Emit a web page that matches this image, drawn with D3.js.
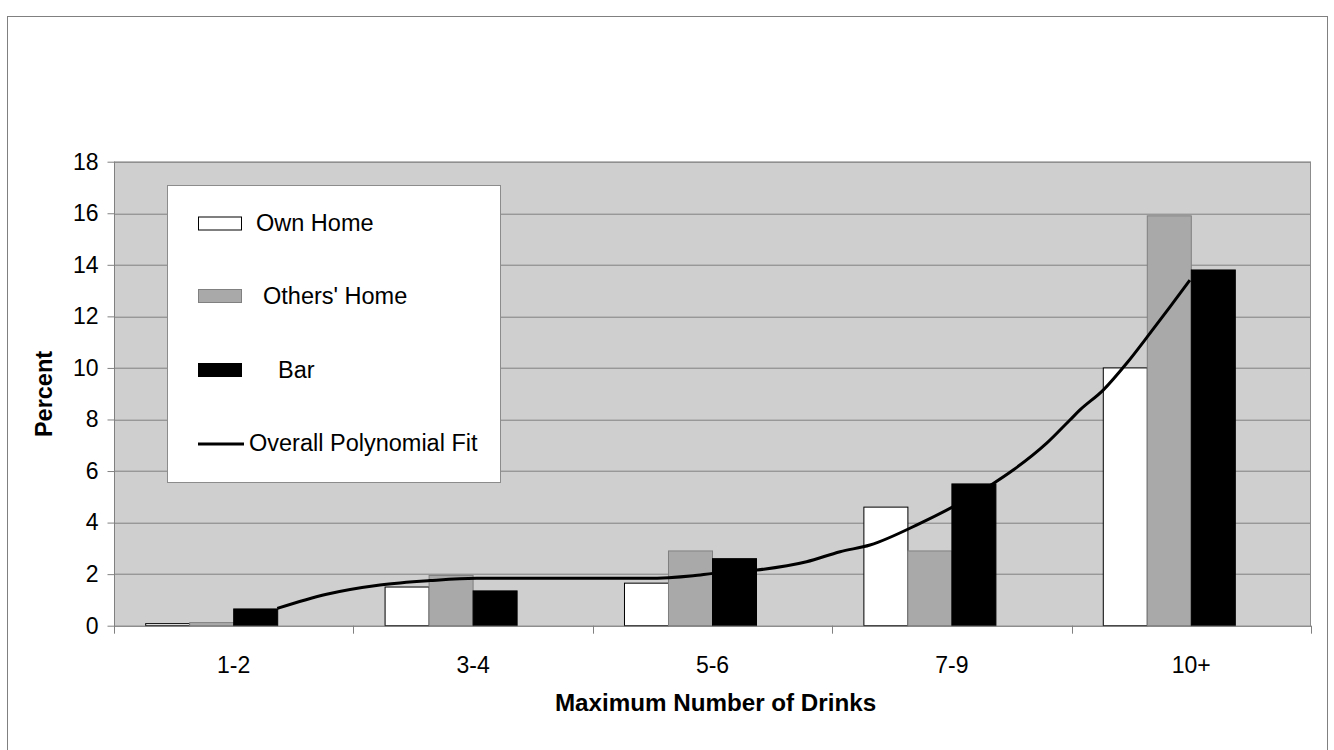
<!DOCTYPE html>
<html>
<head>
<meta charset="utf-8">
<script src="https://cdn.jsdelivr.net/npm/d3@7/dist/d3.min.js"></script>
<style>
  html, body { margin: 0; padding: 0; background: #ffffff; }
  svg { display: block; font-family: "Liberation Sans", Arial, sans-serif; }
</style>
</head>
<body>
<svg id="chart" width="1334" height="750"></svg>
<script>
// ---------------- data ----------------
const categories = ["1-2", "3-4", "5-6", "7-9", "10+"];
const seriesNames = ["Own Home", "Others' Home", "Bar"];
const ownHome   = [0.08, 1.50, 1.65, 4.60, 10.00];
const othersHome = [0.12, 1.95, 2.90, 2.90, 15.90];
const barValues = [0.65, 1.35, 2.60, 5.50, 13.80];
const yTicks = [0, 2, 4, 6, 8, 10, 12, 14, 16, 18];
// polynomial fit: position in category-index units (0 = centre of "1-2") and value
const fitPos = [0.182, 0.388, 0.611, 0.820, 1.015, 1.363, 1.725, 1.919, 2.002, 2.185, 2.393, 2.533, 2.658, 2.867, 3.006, 3.173, 3.256, 3.396, 3.493, 3.535, 3.632, 3.730, 3.827, 3.911, 3.994];
const fitVal = [0.67, 1.22, 1.58, 1.75, 1.84, 1.84, 1.84, 1.94, 2.03, 2.16, 2.48, 2.87, 3.13, 3.97, 4.62, 5.52, 6.04, 7.08, 7.98, 8.37, 9.14, 10.18, 11.34, 12.37, 13.41];
const legendLabels = ["Own Home", "Others' Home", "Bar", "Overall Polynomial Fit"];
const seriesFill = ["#ffffff", "#a9a9a9", "#000000"];
const seriesStroke = ["#000000", "#808080", "#000000"];

// ---------------- layout ----------------
const svg = d3.select("#chart");
const plot = { left: 114, top: 161.7, width: 1197, height: 464 };

// outer frame
svg.append("rect")
  .attr("x", 7.5).attr("y", 16.5).attr("width", 1320).attr("height", 760)
  .attr("fill", "#ffffff").attr("stroke", "#808080").attr("stroke-width", 1);

const g = svg.append("g").attr("transform", `translate(${plot.left},${plot.top})`);

const x0 = d3.scaleBand().domain(categories).range([0, plot.width]).paddingInner(0).paddingOuter(0);
const x1 = d3.scaleBand().domain([...seriesNames, "_gap"]).range([0, x0.bandwidth()]).paddingInner(0).paddingOuter(0.72);
const y = d3.scaleLinear().domain([0, 18]).range([plot.height, 0]);
const xPos = d3.scaleLinear().domain([0, categories.length - 1])
  .range([x0(categories[0]) + x0.bandwidth() / 2, x0(categories[categories.length - 1]) + x0.bandwidth() / 2]);

// plot background
g.append("rect").attr("x", 0).attr("y", 0).attr("width", plot.width).attr("height", plot.height)
  .attr("fill", "#cfcfcf");

// gridlines
g.append("g").selectAll("line").data(yTicks.filter(t => t > 0)).join("line")
  .attr("x1", 0).attr("x2", plot.width)
  .attr("y1", d => Math.round(y(d)) + 0.5).attr("y2", d => Math.round(y(d)) + 0.5)
  .attr("stroke", "#808080").attr("stroke-width", 1);

// plot border
g.append("rect").attr("x", 0.5).attr("y", 0.5).attr("width", plot.width - 1).attr("height", plot.height)
  .attr("fill", "none").attr("stroke", "#8c8c8c").attr("stroke-width", 1);

// bars
const allSeries = [ownHome, othersHome, barValues];
allSeries.forEach((vals, si) => {
  g.append("g").selectAll("rect").data(vals).join("rect")
    .attr("x", (d, i) => x0(categories[i]) + x1(seriesNames[si]))
    .attr("y", d => y(d))
    .attr("width", x1.bandwidth())
    .attr("height", d => y(0) - y(d))
    .attr("fill", seriesFill[si])
    .attr("stroke", seriesStroke[si])
    .attr("stroke-width", 1);
});

// fit line
const fitData = fitPos.map((p, i) => [p, fitVal[i]]);
g.append("path").datum(fitData)
  .attr("fill", "none").attr("stroke", "#000000").attr("stroke-width", 3)
  .attr("stroke-linejoin", "round")
  .attr("d", d3.line().x(d => xPos(d[0])).y(d => y(d[1])).curve(d3.curveMonotoneX));

// y axis
const yAxis = d3.axisLeft(y).tickValues(yTicks).tickSize(7).tickPadding(9).tickFormat(d3.format("d"));
const yg = g.append("g").attr("transform", "translate(0.5,0)").call(yAxis);
yg.selectAll(".tick line").attr("stroke", "#808080");
yg.selectAll(".tick text").attr("fill", "#000").style("font-size", "23px").style("font-family", "'Liberation Sans', Arial, sans-serif");
yg.select(".domain").attr("stroke", "#808080").attr("d", `M0,${plot.height}V0`);

// x axis
const xg = g.append("g").attr("transform", `translate(0,${plot.height})`);
xg.append("line").attr("x1", 0).attr("x2", plot.width).attr("y1", 0.5).attr("y2", 0.5)
  .attr("stroke", "#808080");
const boundaries = categories.map(c => x0(c)).concat([plot.width]);
xg.selectAll("line.tk").data(boundaries).join("line").attr("class", "tk")
  .attr("x1", d => Math.round(d) + 0.5).attr("x2", d => Math.round(d) + 0.5)
  .attr("y1", 0).attr("y2", 8).attr("stroke", "#808080");
xg.selectAll("text").data(categories).join("text")
  .attr("x", d => x0(d) + x0.bandwidth() / 2)
  .attr("y", 47)
  .attr("text-anchor", "middle")
  .style("font-size", "23px")
  .text(d => d);

// axis titles
svg.append("text")
  .attr("x", plot.left + plot.width / 2 + 3).attr("y", 711)
  .attr("text-anchor", "middle")
  .style("font-size", "24.2px").style("font-weight", "bold")
  .text("Maximum Number of Drinks");
svg.append("text")
  .attr("transform", "translate(52,394) rotate(-90)")
  .attr("text-anchor", "middle")
  .style("font-size", "23.5px").style("font-weight", "bold")
  .text("Percent");

// legend
const leg = svg.append("g");
leg.append("rect").attr("x", 167.5).attr("y", 185.5).attr("width", 333).attr("height", 297)
  .attr("fill", "#ffffff").attr("stroke", "#8c8c8c").attr("stroke-width", 1);
const legRows = [
  { sy: 217, ty: 223, tx: 256 },
  { sy: 289.5, ty: 296, tx: 263 },
  { sy: 363.5, ty: 370, tx: 278 },
  { sy: 444, ty: 443, tx: 249 }
];
legendLabels.forEach((lab, i) => {
  const r = legRows[i];
  if (i < 3) {
    leg.append("rect").attr("x", 198.5).attr("y", r.sy).attr("width", 43).attr("height", 13)
      .attr("fill", seriesFill[i]).attr("stroke", seriesStroke[i]).attr("stroke-width", 1);
  } else {
    leg.append("line").attr("x1", 198).attr("x2", 244).attr("y1", r.sy).attr("y2", r.sy)
      .attr("stroke", "#000").attr("stroke-width", 3);
  }
  leg.append("text").attr("x", r.tx).attr("y", r.ty).attr("dy", "0.35em")
    .style("font-size", "23.5px").text(lab);
});
</script>
</body>
</html>
